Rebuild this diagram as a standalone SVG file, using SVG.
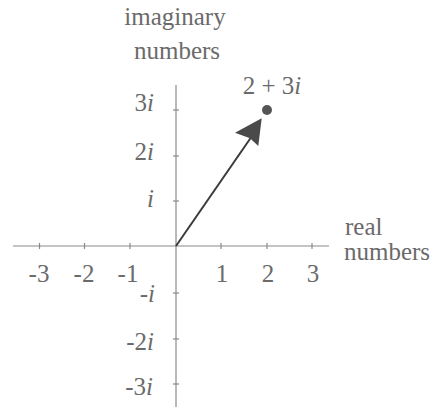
<svg xmlns="http://www.w3.org/2000/svg" width="440" height="407" viewBox="0 0 440 407">
<style>
.t{font-family:"Liberation Serif","Times New Roman",serif;font-size:25px;fill:#6a6a6a}
.ax{stroke:#8a8a8a;stroke-width:1.2;fill:none}
.tk{stroke:#8a8a8a;stroke-width:1.2}
</style>
<rect width="440" height="407" fill="#ffffff"/>
<g id="axes">
<line class="ax" x1="13" y1="246" x2="329" y2="246"/>
<line class="ax" x1="176" y1="85" x2="176" y2="407"/>
<g id="xticks">
<line class="tk" x1="39.5" y1="243" x2="39.5" y2="249"/>
<line class="tk" x1="84.5" y1="243" x2="84.5" y2="249"/>
<line class="tk" x1="130" y1="243" x2="130" y2="249"/>
<line class="tk" x1="221" y1="243" x2="221" y2="249"/>
<line class="tk" x1="267" y1="243" x2="267" y2="249"/>
<line class="tk" x1="312" y1="243" x2="312" y2="249"/>
</g>
<g id="yticks">
<line class="tk" x1="173" y1="110" x2="179" y2="110"/>
<line class="tk" x1="173" y1="156" x2="179" y2="156"/>
<line class="tk" x1="173" y1="201" x2="179" y2="201"/>
<line class="tk" x1="173" y1="293" x2="179" y2="293"/>
<line class="tk" x1="173" y1="339" x2="179" y2="339"/>
<line class="tk" x1="173" y1="384" x2="179" y2="384"/>
</g>
</g>
<g id="axis-titles">
<text class="t" x="175" y="25" text-anchor="middle">imaginary</text>
<text class="t" x="177" y="59" text-anchor="middle">numbers</text>
<text class="t" x="345" y="235">real</text>
<text class="t" x="344" y="260">numbers</text>
</g>
<g id="x-labels">
<text class="t" x="39" y="282" text-anchor="middle">-3</text>
<text class="t" x="84" y="282" text-anchor="middle">-2</text>
<text class="t" x="128" y="282" text-anchor="middle">-1</text>
<text class="t" x="222" y="282" text-anchor="middle">1</text>
<text class="t" x="268" y="282" text-anchor="middle">2</text>
<text class="t" x="313" y="282" text-anchor="middle">3</text>
</g>
<g id="y-labels">
<text class="t" x="154" y="111" text-anchor="end">3<tspan font-style="italic">i</tspan></text>
<text class="t" x="154" y="160" text-anchor="end">2<tspan font-style="italic">i</tspan></text>
<text class="t" x="154" y="207" text-anchor="end"><tspan font-style="italic">i</tspan></text>
<text class="t" x="155" y="302" text-anchor="end">-<tspan font-style="italic">i</tspan></text>
<text class="t" x="154" y="350" text-anchor="end">-2<tspan font-style="italic">i</tspan></text>
<text class="t" x="153" y="395" text-anchor="end">-3<tspan font-style="italic">i</tspan></text>
</g>
<g id="point">
<circle cx="267" cy="110" r="5" fill="#555555"/>
<text class="t" x="272" y="94" text-anchor="middle">2 + 3<tspan font-style="italic">i</tspan></text>
</g>
<g id="connectors">
<line x1="176" y1="246" x2="252" y2="136" stroke="#3a3a3a" stroke-width="2"/>
<polygon points="261.7,118.3 235,132.7 250,138.3 258.3,146" fill="#4a4a4a"/>
</g>
</svg>
